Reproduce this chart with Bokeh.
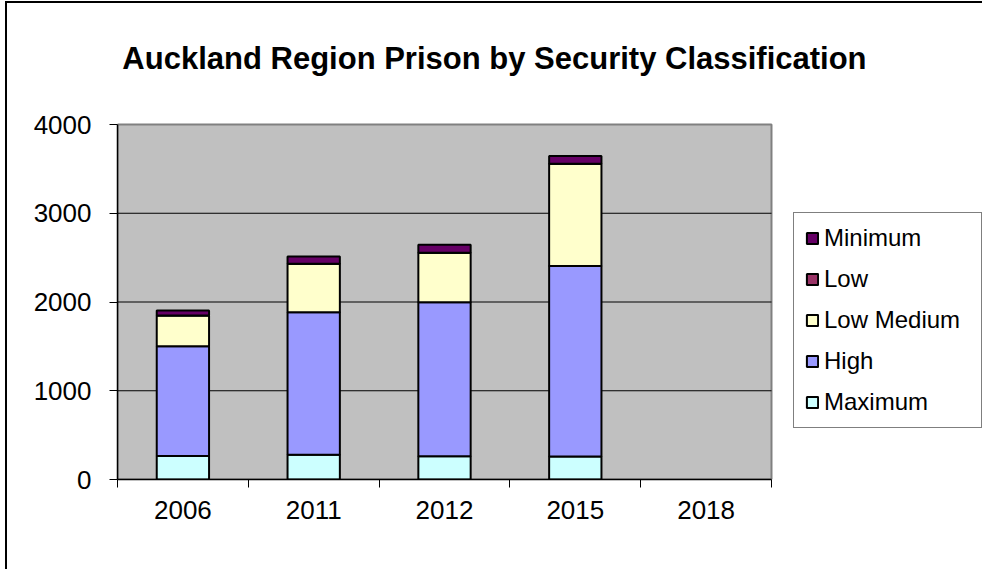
import numpy as np
from bokeh.plotting import figure
from bokeh.models import (ColumnDataSource, Range1d, LinearAxis,
                          FixedTicker, Legend, LegendItem, Label)
from bokeh.embed import file_html
from bokeh.resources import INLINE

# ---- data ----
years = ["2006", "2011", "2012", "2015", "2018"]
maximum = [265, 278, 263, 260, np.nan]
high = [1237, 1607, 1735, 2145, np.nan]
low_medium = [346, 545, 556, 1153, np.nan]
low = [0, 0, 0, 0, np.nan]
minimum = [56, 83, 91, 86, np.nan]
series_names = ["Maximum", "High", "Low Medium", "Low", "Minimum"]
series_colors = ["#CCFFFF", "#9999FF", "#FFFFCC", "#993366", "#660066"]
y_ticks = [0, 1000, 2000, 3000, 4000]
title_text = "Auckland Region Prison by Security Classification"

FONT = "Liberation Sans"

# ---- layout constants (pixels) ----
W, H = 977, 568
LEFT, BOTTOM = 110, 92
AREA_W, AREA_H = 654, 355          # grey plot area size
frame_w, frame_h = W - LEFT, H - BOTTOM

n = len(years)
y_max = y_ticks[-1]
x_end = n * frame_w / AREA_W
y_end = y_max * frame_h / AREA_H

centers = np.arange(n) + 0.5          # category slots on a 0..n axis
source = ColumnDataSource(data=dict(
    x=centers,
    year=years,
    Maximum=np.array(maximum, dtype=float),
    High=np.array(high, dtype=float),
    **{"Low Medium": np.array(low_medium, dtype=float)},
    Low=np.array(low, dtype=float),
    Minimum=np.array(minimum, dtype=float),
))

p = figure(x_range=Range1d(0, x_end), y_range=Range1d(0, y_end),
           width=W, height=H, output_backend="svg", toolbar_location=None,
           x_axis_location=None, y_axis_location=None,
           min_border_left=LEFT, min_border_right=0, min_border_top=0, min_border_bottom=BOTTOM)
p.styles = {"border-left": "2px solid black", "border-top": "2px solid black",
            "margin-left": "5px", "margin-top": "1px"}

p.background_fill_color = "white"
p.border_fill_color = "white"
p.outline_line_color = None
p.xgrid.grid_line_color = None
p.ygrid.grid_line_color = None

# grey plot area
p.quad(left=[0], right=[n], bottom=[0], top=[y_max],
       fill_color="#C0C0C0", line_color="#808080", line_width=2)
# horizontal gridlines
grid_y = y_ticks[1:-1]
p.segment(x0=[0] * len(grid_y), x1=[n] * len(grid_y), y0=grid_y, y1=grid_y,
          line_color="black", line_width=1)

# y axis
yaxis = LinearAxis(ticker=FixedTicker(ticks=y_ticks), bounds=(0, y_max))
yaxis.major_tick_out = 8
yaxis.major_tick_in = 0
yaxis.minor_tick_out = 0
yaxis.minor_tick_in = 0
yaxis.major_tick_line_color = "black"
yaxis.axis_line_color = "black"
yaxis.axis_line_width = 1.5
yaxis.major_label_standoff = 18
yaxis.major_label_text_font = FONT
yaxis.major_label_text_font_size = "26px"
yaxis.major_label_text_color = "black"
p.add_layout(yaxis, "left")

# x axis: year labels at slot centres, tick marks between slots
xaxis = LinearAxis(ticker=FixedTicker(ticks=list(centers), minor_ticks=list(range(n + 1))),
                   bounds=(0, n))
xaxis.major_label_overrides = {float(c): y for c, y in zip(centers, years)}
xaxis.major_tick_out = 0
xaxis.major_tick_in = 0
xaxis.minor_tick_out = 8
xaxis.minor_tick_in = 0
xaxis.minor_tick_line_color = "black"
xaxis.axis_line_color = "black"
xaxis.axis_line_width = 1.5
xaxis.major_label_standoff = 13
xaxis.major_label_text_font = FONT
xaxis.major_label_text_font_size = "26px"
xaxis.major_label_text_color = "black"
p.add_layout(xaxis, "below")

renderers = p.vbar_stack(series_names, x="x", width=0.4, source=source,
                         fill_color=series_colors, line_color="black", line_width=2)

items = [LegendItem(label=s, renderers=[r]) for s, r in zip(series_names, renderers)][::-1]
legend = Legend(items=items, location=(676, 51))
legend.label_text_font = FONT
legend.label_text_font_size = "24px"
legend.label_text_color = "black"
legend.glyph_width = 14
legend.glyph_height = 14
legend.label_standoff = 5
legend.label_width = 146
legend.spacing = 13
legend.padding = 11
legend.margin = 0
legend.border_line_color = "black"
legend.border_line_width = 1
legend.background_fill_color = "white"
legend.background_fill_alpha = 1
p.add_layout(legend)

title = Label(x=2.882, y=4749, text=title_text, text_font=FONT, text_font_size="31px",
              text_font_style="bold", text_align="center", text_baseline="alphabetic",
              text_color="black")
p.add_layout(title)

open("out.html", "w").write(file_html(p, INLINE))
